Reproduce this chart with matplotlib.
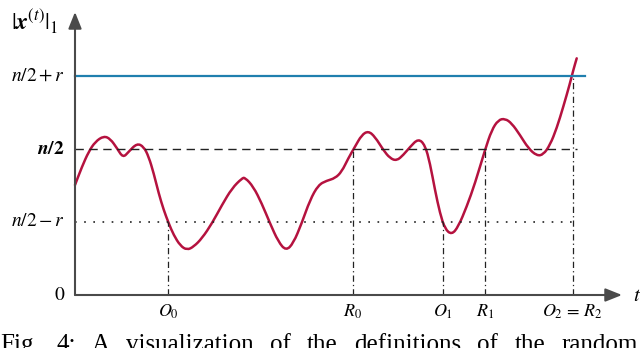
import numpy as np
import matplotlib
matplotlib.use("Agg")
import matplotlib.pyplot as plt
from matplotlib.path import Path
from matplotlib.patches import PathPatch

plt.rcParams['mathtext.fontset'] = 'stix'
plt.rcParams['font.family'] = ['Liberation Serif', 'DejaVu Serif']

# ------------------------------------------------------------
# Data (axis units: t in [0,10])
# ------------------------------------------------------------
t_curve = [0.0, 0.128, 0.250, 0.371, 0.525, 0.645, 0.768, 0.878, 0.982, 1.133,
           1.256, 1.347, 1.439, 1.530, 1.622, 1.713, 1.804, 1.925, 2.048, 2.170,
           2.322, 2.505, 2.687, 2.870, 3.053, 3.108, 3.260, 3.413, 3.565, 3.717,
           3.857, 3.991, 4.144, 4.296, 4.448, 4.601, 4.753, 4.876, 4.996, 5.119,
           5.241, 5.362, 5.484, 5.636, 5.759, 5.881, 6.002, 6.124, 6.276, 6.399,
           6.490, 6.581, 6.673, 6.764, 6.887, 7.007, 7.161, 7.313, 7.495, 7.618,
           7.739, 7.861, 7.984, 8.135, 8.287, 8.441, 8.561, 8.684, 8.806, 8.927,
           9.049, 9.110, 9.172]
y_curve = [1.507, 1.758, 1.963, 2.100, 2.178, 2.140, 2.010, 1.880, 1.963, 2.078,
           2.032, 1.895, 1.667, 1.393, 1.164, 0.982, 0.822, 0.675, 0.616, 0.662,
           0.777, 0.982, 1.233, 1.462, 1.599, 1.609, 1.484, 1.256, 0.982, 0.730,
           0.606, 0.708, 0.982, 1.301, 1.507, 1.566, 1.599, 1.689, 1.873, 2.032,
           2.192, 2.247, 2.168, 1.986, 1.873, 1.839, 1.918, 2.027, 2.143, 2.055,
           1.804, 1.438, 1.119, 0.904, 0.826, 0.936, 1.210, 1.530, 1.986, 2.260,
           2.398, 2.417, 2.352, 2.192, 2.010, 1.908, 1.922, 2.055, 2.284, 2.579,
           2.900, 3.082, 3.242]

level_values = [0, 1, 2, 3]
level_labels = [r'$0$', r'$n/2-r$', r'$\boldsymbol{n/2}$', r'$n/2+r$']

event_t = [1.70, 5.08, 6.73, 7.50, 9.10]
event_level = [1, 2, 1, 2, 3]
event_labels = [r'$O_0$', r'$R_0$', r'$O_1$', r'$R_1$', r'$O_2\,=\,R_2$']

caption_words = ["Fig.", "4:", "A", "visualization", "of", "the",
                 "definitions", "of", "the", "random"]

# ------------------------------------------------------------
# Figure
# ------------------------------------------------------------
W, H = 640, 348
fig = plt.figure(figsize=(6.4, 3.48), dpi=100)
ax = fig.add_axes([75 / W, (H - 295) / H, (622 - 75) / W, (295 - 12) / H])
ax.set_xlim(0, 10)
ax.set_ylim(0, 283 / 73)
ax.axis('off')

axis_col = '#4a4a4a'
red = '#b5123f'
blue = '#1f7fae'

# axes with arrowheads
ax.annotate('', xy=(10, 0), xytext=(0, 0), annotation_clip=False,
            arrowprops=dict(arrowstyle='-|>,head_length=1.0,head_width=0.4',
                            color=axis_col, lw=1.5, shrinkA=0, shrinkB=0))
ax.annotate('', xy=(0, 283 / 73), xytext=(0, 0), annotation_clip=False,
            arrowprops=dict(arrowstyle='-|>,head_length=1.0,head_width=0.4',
                            color=axis_col, lw=1.5, shrinkA=0, shrinkB=0))

# reference levels
ax.plot([0, 9.32], [3, 3], color=blue, lw=1.6, clip_on=False)
ax.plot([0, 9.18], [2, 2], color='#222222', lw=1.0, ls=(0, (6, 4)), clip_on=False)
ax.plot([0, 9.18], [1, 1], color='#222222', lw=1.2, ls=(0, (1, 4.5)), clip_on=False)

# event markers
for te, lv in zip(event_t, event_level):
    ax.plot([te, te], [0, lv], color='#222222', lw=0.9,
            ls=(0, (5, 2.5, 1, 2.5)), clip_on=False)

# the trajectory, drawn as a chain of quadratic Bezier pieces
pts = np.column_stack([t_curve, y_curve])
mids = (pts[:-1] + pts[1:]) / 2
verts = [pts[0], mids[0]]
codes = [Path.MOVETO, Path.LINETO]
for i in range(1, len(pts) - 1):
    verts += [pts[i], mids[i]]
    codes += [Path.CURVE3, Path.CURVE3]
verts.append(pts[-1])
codes.append(Path.LINETO)
ax.add_patch(PathPatch(Path(verts, codes), facecolor='none', edgecolor=red,
                       lw=1.8, capstyle='round', clip_on=False))

# labels
for v, lab in zip(level_values, level_labels):
    ax.text(-0.18, v, lab, ha='right', va='center', fontsize=14)
for te, lab in zip(event_t, event_labels):
    ax.text(te, -0.1, lab, ha='center', va='top', fontsize=13)
ax.text(10.2, -0.02, r'$t$', ha='left', va='center', fontsize=15)
ax.text(-0.3, 3.75, r'$|\boldsymbol{x}^{(t)}|_1$', ha='right', va='center', fontsize=17)

# caption, justified across the width and cut by the lower edge as in the source
renderer = fig.canvas.get_renderer()
words = [fig.text(0, 1 - 334 / H, w, ha='left', va='top', fontsize=18)
         for w in caption_words]
widths = [t.get_window_extent(renderer).width for t in words]
gap = (638 - sum(widths)) / (len(words) - 1)
xpos = 0.0
for t, wd in zip(words, widths):
    t.set_x(xpos / W)
    xpos += wd + gap

fig.savefig('out.png', dpi=100)
